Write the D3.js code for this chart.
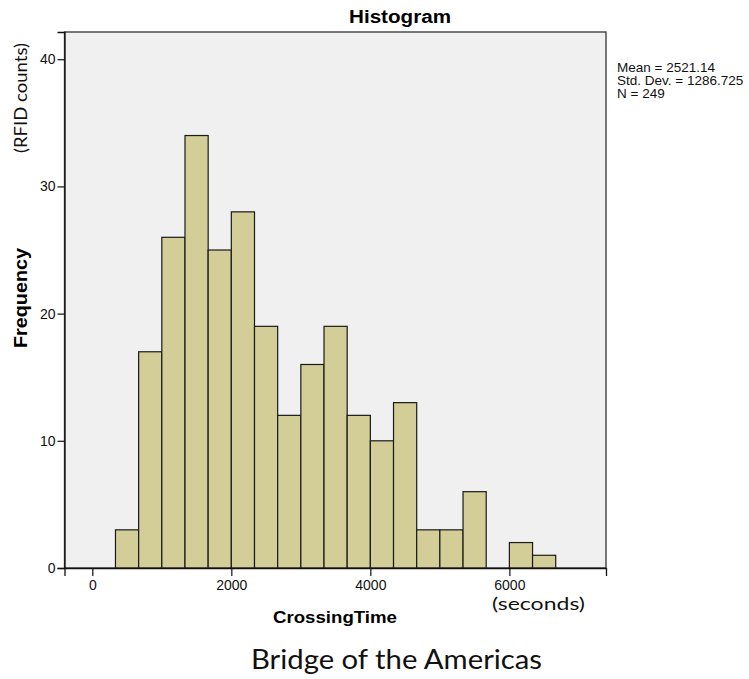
<!DOCTYPE html>
<html>
<head>
<meta charset="utf-8">
<script src="https://cdn.jsdelivr.net/npm/d3@7"></script>
<style>
  html, body { margin: 0; padding: 0; background: #fff; }
  svg { display: block; }
</style>
</head>
<body>
<svg id="chart" width="749" height="679"></svg>
<script>
// ---- data ----
const binStarts = [333.33, 666.67, 1000, 1333.33, 1666.67, 2000, 2333.33, 2666.67, 3000, 3333.33,
                   3666.67, 4000, 4333.33, 4666.67, 5000, 5333.33, 5666.67, 6000, 6333.33];
const binWidth = 333.33;
const counts = [3, 17, 26, 34, 25, 28, 19, 12, 16, 19, 12, 10, 13, 3, 3, 6, 0, 2, 1];
const xTicks = [0, 2000, 4000, 6000];
const yTicks = [0, 10, 20, 30, 40];
const statsLines = ["Mean = 2521.14", "Std. Dev. = 1286.725", "N = 249"];
const titleText = "Histogram";
const xLabel = "CrossingTime";
const yLabel = "Frequency";
const yNote = "(RFID counts)";
const xNote = "(seconds)";
const caption = "Bridge of the Americas";

// ---- layout ----
const svg = d3.select("#chart");
const plot = { left: 64.5, right: 606, top: 32, bottom: 568 };
const x = d3.scaleLinear().domain([-400, 7390]).range([plot.left, plot.right]);
const y = d3.scaleLinear().domain([0, 42.14]).range([plot.bottom, plot.top]);

// plot background
svg.append("rect")
  .attr("x", plot.left).attr("y", plot.top)
  .attr("width", plot.right - plot.left).attr("height", plot.bottom - plot.top)
  .attr("fill", "#f0f0f0").attr("stroke", "#333").attr("stroke-width", 1.3);

// bars
const bars = binStarts.map((s, i) => ({ x0: s, x1: s + binWidth, c: counts[i] })).filter(d => d.c > 0);
svg.append("g").selectAll("rect").data(bars).join("rect")
  .attr("x", d => x(d.x0))
  .attr("y", d => y(d.c))
  .attr("width", d => x(d.x1) - x(d.x0))
  .attr("height", d => y(0) - y(d.c))
  .attr("fill", "#d3ce97")
  .attr("stroke", "#1a1a1a")
  .attr("stroke-width", 1.2);

// axes
const yAxis = d3.axisLeft(y).tickValues(yTicks).tickSize(7).tickPadding(2).tickFormat(d3.format("d"));
const gy = svg.append("g").attr("transform", `translate(${plot.left},0)`).call(yAxis);
gy.select(".domain").attr("stroke", "#111").attr("stroke-width", 1.3);
gy.selectAll(".tick line").attr("stroke", "#111").attr("stroke-width", 1.2);
gy.selectAll(".tick text").attr("font-family", "Liberation Sans, Arial, sans-serif").attr("font-size", 14).attr("fill", "#111");

const xAxis = d3.axisBottom(x).tickValues(xTicks).tickSize(8).tickPadding(4).tickFormat(d3.format("d"));
const gx = svg.append("g").attr("transform", `translate(0,${plot.bottom})`).call(xAxis);
gx.select(".domain").attr("stroke", "#111").attr("stroke-width", 1.3);
gx.selectAll(".tick line").attr("stroke", "#111").attr("stroke-width", 1.2);
gx.selectAll(".tick text").attr("font-family", "Liberation Sans, Arial, sans-serif").attr("font-size", 14).attr("fill", "#111");

// title
svg.append("text").attr("x", 400).attr("y", 23).attr("text-anchor", "middle")
  .attr("font-family", "Liberation Sans, Arial, sans-serif").attr("font-weight", "bold").attr("font-size", 18)
  .attr("textLength", 102).attr("lengthAdjust", "spacingAndGlyphs")
  .text(titleText);

// stats
svg.append("g").selectAll("text").data(statsLines).join("text")
  .attr("x", 617).attr("y", (d, i) => 71.5 + i * 13.4)
  .attr("font-family", "Liberation Sans, Arial, sans-serif").attr("font-size", 13.5).attr("fill", "#111")
  .text(d => d);

// axis labels
svg.append("text").attr("transform", "translate(27,298) rotate(-90)").attr("text-anchor", "middle")
  .attr("font-family", "Liberation Sans, Arial, sans-serif").attr("font-weight", "bold").attr("font-size", 18)
  .attr("textLength", 100).attr("lengthAdjust", "spacingAndGlyphs")
  .text(yLabel);

svg.append("text").attr("x", 335).attr("y", 623).attr("text-anchor", "middle")
  .attr("font-family", "Liberation Sans, Arial, sans-serif").attr("font-weight", "bold").attr("font-size", 17)
  .attr("textLength", 124).attr("lengthAdjust", "spacingAndGlyphs")
  .text(xLabel);

// annotations
svg.append("text").attr("transform", "translate(27,98) rotate(-90)").attr("text-anchor", "middle")
  .attr("font-family", "Lato, 'Open Sans', sans-serif").attr("font-size", 18).attr("fill", "#111")
  .attr("textLength", 110).attr("lengthAdjust", "spacingAndGlyphs")
  .text(yNote);

svg.append("text").attr("x", 538.5).attr("y", 610).attr("text-anchor", "middle")
  .attr("font-family", "Lato, 'Open Sans', sans-serif").attr("font-size", 18).attr("fill", "#111")
  .attr("textLength", 93).attr("lengthAdjust", "spacingAndGlyphs")
  .text(xNote);

svg.append("text").attr("x", 396.5).attr("y", 669).attr("text-anchor", "middle")
  .attr("font-family", "Lato, 'Open Sans', sans-serif").attr("font-size", 26).attr("fill", "#111")
  .attr("textLength", 291).attr("lengthAdjust", "spacingAndGlyphs")
  .text(caption);
</script>
</body>
</html>
